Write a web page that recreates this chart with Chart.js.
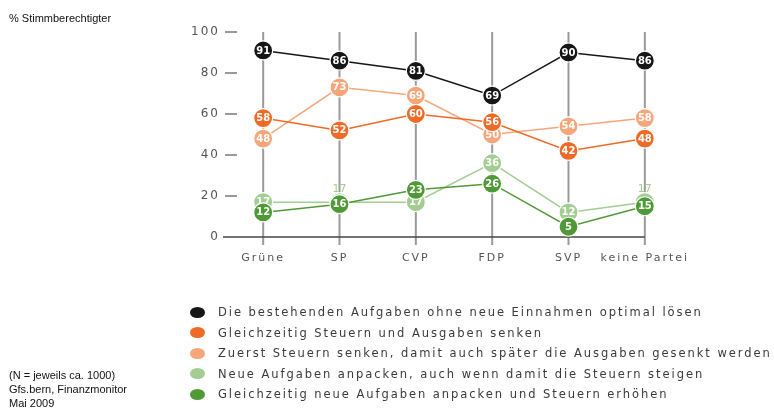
<!DOCTYPE html>
<html>
<head>
<meta charset="utf-8">
<script src="https://cdn.jsdelivr.net/npm/chart.js@4/dist/chart.umd.min.js"></script>
<style>
  body { margin: 0; background: #fff; font-family: "Liberation Sans", Arial, sans-serif; }
  #wrap { position: relative; width: 774px; height: 409px; overflow: hidden; }
  #grafik { position: absolute; left: 0; top: 0; }
  .notiz { position: absolute; left: 9px; font-size: 11px; line-height: 14px; color: #111; }
  #legende { position: absolute; left: 190px; top: 302px; font-family: "DejaVu Sans", sans-serif;
    font-size: 11.5px; letter-spacing: 1.95px; color: #3a3a3a; }
  .zeile { height: 20.5px; display: flex; align-items: center; white-space: nowrap; }
  .punkt { width: 15px; height: 11px; border-radius: 50%; margin-right: 13px; flex: none; }
</style>
</head>
<body>
<div id="wrap">
  <canvas id="grafik" width="774" height="409"></canvas>
  <div class="notiz" style="top:11px">% Stimmberechtigter</div>
  <div class="notiz" style="top:368px">(N = jeweils ca. 1000)<br>Gfs.bern, Finanzmonitor<br>Mai 2009</div>
  <div id="legende"></div>
</div>
<script>
// Daten
const parteien = ["Grüne", "SP", "CVP", "FDP", "SVP", "keine Partei"];
const bestehendeAufgaben = [91, 86, 81, 69, 90, 86];
const beidesSenken = [58, 52, 60, 56, 42, 48];
const zuerstSenken = [48, 73, 69, 50, 54, 58];
const neueAufgaben = [17, 17, 17, 36, 12, 17];
const beidesErhoehen = [12, 16, 23, 26, 5, 15];
const yTicks = [0, 20, 40, 60, 80, 100];

const serienNamen = [
  "Die bestehenden Aufgaben ohne neue Einnahmen optimal lösen",
  "Gleichzeitig Steuern und Ausgaben senken",
  "Zuerst Steuern senken, damit auch später die Ausgaben gesenkt werden",
  "Neue Aufgaben anpacken, auch wenn damit die Steuern steigen",
  "Gleichzeitig neue Aufgaben anpacken und Steuern erhöhen"
];
const serienWerte = [bestehendeAufgaben, beidesSenken, zuerstSenken, neueAufgaben, beidesErhoehen];
const farben = ["#161616", "#ee6a26", "#f7a67a", "#a3cd92", "#4f9a36"];
const reihenfolge = [1, 2, 3, 5, 4]; // kleiner = oben

// Legende
const legende = document.getElementById("legende");
serienNamen.forEach((name, i) => {
  const z = document.createElement("div");
  z.className = "zeile";
  z.innerHTML = '<span class="punkt" style="background:' + farben[i] + '"></span>' + name;
  legende.appendChild(z);
});

// Achsen, Gitter
const dekoPlugin = {
  id: "deko",
  beforeDatasetsDraw(chart) {
    const { ctx, chartArea, scales } = chart;
    const x = scales.x, y = scales.y;
    ctx.save();
    ctx.strokeStyle = "#9a9a9a";
    ctx.lineWidth = 2;
    parteien.forEach((p, i) => {
      const px = x.getPixelForValue(i);
      ctx.beginPath();
      ctx.moveTo(px, y.getPixelForValue(100));
      ctx.lineTo(px, chartArea.bottom + 8);
      ctx.stroke();
    });
    ctx.strokeStyle = "#777";
    ctx.lineWidth = 1.5;
    yTicks.forEach((t) => {
      if (t === 0) return;
      const py = y.getPixelForValue(t);
      ctx.beginPath();
      ctx.moveTo(chartArea.left, py);
      ctx.lineTo(chartArea.left + 12, py);
      ctx.stroke();
    });
    ctx.strokeStyle = "#444";
    ctx.lineWidth = 1.5;
    const y0 = y.getPixelForValue(0);
    ctx.beginPath();
    ctx.moveTo(chartArea.left - 2, y0);
    ctx.lineTo(x.getPixelForValue(parteien.length - 1), y0);
    ctx.stroke();
    ctx.restore();
  }
};

// Werte in den Punkten
const wertPlugin = {
  id: "werte",
  afterDatasetDraw(chart, args) {
    const { ctx } = chart;
    const i = args.index;
    const meta = args.meta;
    ctx.save();
    ctx.letterSpacing = "0px";
    ctx.textAlign = "center";
    ctx.textBaseline = "middle";
    meta.data.forEach((pt, j) => {
      let verdeckt = false;
      chart.data.datasets.forEach((ds, k) => {
        if (k === i || ds.order >= chart.data.datasets[i].order) return;
        const anderer = chart.getDatasetMeta(k).data[j];
        if (Math.abs(anderer.y - pt.y) < 6) verdeckt = true;
      });
      const wert = serienWerte[i][j];
      if (verdeckt) {
        ctx.fillStyle = farben[i];
        ctx.font = "11px 'DejaVu Sans'";
        ctx.fillText(wert, pt.x, pt.y - 13);
      } else {
        ctx.fillStyle = "#fff";
        ctx.font = "bold 10px 'DejaVu Sans'";
        ctx.fillText(wert, pt.x, pt.y + 0.5);
      }
    });
    ctx.restore();
  }
};

const buchstaben = {
  id: "buchstaben",
  beforeDraw(chart) { chart.ctx.letterSpacing = "2px"; }
};

new Chart(document.getElementById("grafik"), {
  type: "line",
  data: {
    labels: parteien,
    datasets: serienWerte.map((werte, i) => ({
      label: serienNamen[i],
      data: werte,
      order: reihenfolge[i],
      borderColor: farben[i],
      backgroundColor: farben[i],
      borderWidth: 1.5,
      pointRadius: 9.5,
      pointBackgroundColor: farben[i],
      pointBorderColor: "#fff",
      pointBorderWidth: 1.2,
      tension: 0
    }))
  },
  options: {
    responsive: false,
    animation: false,
    layout: { padding: { left: 0, top: 32, right: 91, bottom: 142 } },
    plugins: { legend: { display: false }, tooltip: { enabled: false } },
    scales: {
      x: {
        offset: true,
        grid: { display: false, drawTicks: false },
        border: { display: false },
        ticks: { color: "#555", font: { family: "DejaVu Sans", size: 11 }, padding: 15, maxRotation: 0 },
        afterFit(s) { s.height = 30; }
      },
      y: {
        min: 0,
        max: 100,
        grid: { display: false, drawTicks: false },
        border: { display: false },
        ticks: { stepSize: 20, color: "#555", font: { family: "DejaVu Sans", size: 12 }, padding: 5 },
        afterFit(s) { s.width = 225; }
      }
    }
  },
  plugins: [buchstaben, dekoPlugin, wertPlugin]
});
</script>
</body>
</html>
